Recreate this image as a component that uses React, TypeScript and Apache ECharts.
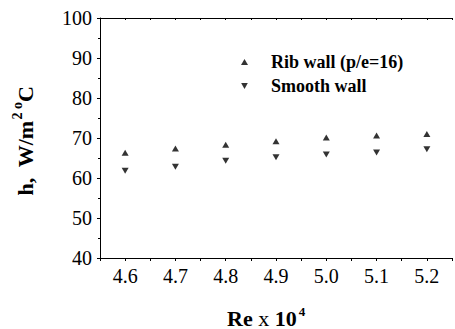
import React, { useEffect, useRef } from "react";
import * as echarts from "echarts";

const reValues = [4.6, 4.7, 4.8, 4.9, 5.0, 5.1, 5.2];
const ribWall = [66.3, 67.4, 68.3, 69.2, 70.1, 70.6, 71.0];
const smoothWall = [61.8, 62.8, 64.3, 65.2, 65.9, 66.4, 67.2];
const seriesNames = ["Rib wall (p/e=16)", "Smooth wall"];

const FONT = "'Liberation Serif', 'Times New Roman', serif";
const DOWN_TRI = "path://M0,0L10,0L5,9Z";

export default function App() {
  const ref = useRef<HTMLDivElement>(null);
  useEffect(() => {
    if (!ref.current) return;
    const chart = echarts.init(ref.current, undefined, { renderer: "svg" });
    const axisCommon = {
      axisLine: { lineStyle: { color: "#000", width: 1 } },
    };
    chart.setOption({
      animation: false,
      backgroundColor: "#fff",
      textStyle: { fontFamily: FONT, color: "#000" },
      grid: { left: 100, top: 18, right: 0, bottom: 71, containLabel: false },
      xAxis: [
        {
          type: "value",
          position: "bottom",
          min: 4.55,
          max: 5.25,
          interval: 0.05,
          ...axisCommon,
          axisTick: { show: true, inside: false, length: 3, lineStyle: { color: "#000" } },
          splitLine: { show: false },
          axisLabel: {
            margin: 8,
            color: "#000",
            fontFamily: FONT,
            fontSize: 20,
            formatter: (v: number) => {
              const t = Math.round(v * 100);
              return t % 10 === 0 ? (t / 100).toFixed(1) : "";
            },
          },
        },
        {
          type: "value",
          position: "top",
          min: 4.55,
          max: 5.25,
          interval: 0.05,
          ...axisCommon,
          axisTick: { show: true, inside: true, length: 2, lineStyle: { color: "#000" } },
          axisLabel: { show: false },
          splitLine: { show: false },
        },
      ],
      yAxis: {
        type: "value",
        min: 40,
        max: 100,
        interval: 10,
        ...axisCommon,
        axisTick: { show: true, inside: false, length: 3, lineStyle: { color: "#000" } },
        minorTick: { show: true, splitNumber: 2, length: 2, lineStyle: { color: "#000" } },
        splitLine: { show: false },
        axisLabel: { margin: 8, color: "#000", fontFamily: FONT, fontSize: 20 },
      },
      legend: {
        orient: "vertical",
        left: 236,
        top: 47,
        itemWidth: 7,
        itemHeight: 6,
        itemGap: 4,
        data: [seriesNames[0], seriesNames[1]],
        textStyle: {
          color: "#000",
          fontFamily: FONT,
          fontSize: 18,
          fontWeight: "bold",
          lineHeight: 20,
          padding: [0, 0, 0, 18],
        },
      },
      series: [
        {
          name: seriesNames[0],
          type: "scatter",
          symbol: "triangle",
          symbolSize: [7, 6],
          itemStyle: { color: "#000" },
          data: reValues.map((x, i) => [x, ribWall[i]]),
        },
        {
          name: seriesNames[1],
          type: "scatter",
          symbol: DOWN_TRI,
          symbolSize: [7, 6],
          itemStyle: { color: "#000" },
          data: reValues.map((x, i) => [x, smoothWall[i]]),
        },
      ],
      graphic: [
        {
          type: "text",
          x: 227,
          y: 318,
          style: {
            text: "{b|Re} {n|x} {b|10}{s|4}",
            align: "left",
            verticalAlign: "middle",
            fill: "#000",
            font: `bold 22px ${FONT}`,
            rich: {
              b: { fontFamily: FONT, fontSize: 22, lineHeight: 26, fontWeight: "bold", fill: "#000" },
              n: { fontFamily: FONT, fontSize: 22, lineHeight: 26, fontWeight: "normal", fill: "#000" },
              s: { fontFamily: FONT, fontSize: 13, lineHeight: 13, fontWeight: "bold", fill: "#000", verticalAlign: "top", padding: [0, 0, 0, 2] },
            },
          },
        },
        {
          type: "text",
          x: 25,
          y: 141,
          rotation: Math.PI / 2,
          style: {
            text: "{b|h,  W/m}{s|2 o}{b|C}",
            align: "center",
            verticalAlign: "middle",
            fill: "#000",
            font: `bold 22px ${FONT}`,
            rich: {
              b: { fontFamily: FONT, fontSize: 22, lineHeight: 30, fontWeight: "bold", fill: "#000" },
              s: { fontFamily: FONT, fontSize: 14, lineHeight: 14, fontWeight: "bold", fill: "#000", verticalAlign: "top", padding: [0, 0, 0, 1] },
            },
          },
        },
      ],
    });
    return () => chart.dispose();
  }, []);
  return (
    <div
      ref={ref}
      style={{ position: "absolute", left: 0, top: 0, width: 455, height: 329 }}
    />
  );
}
